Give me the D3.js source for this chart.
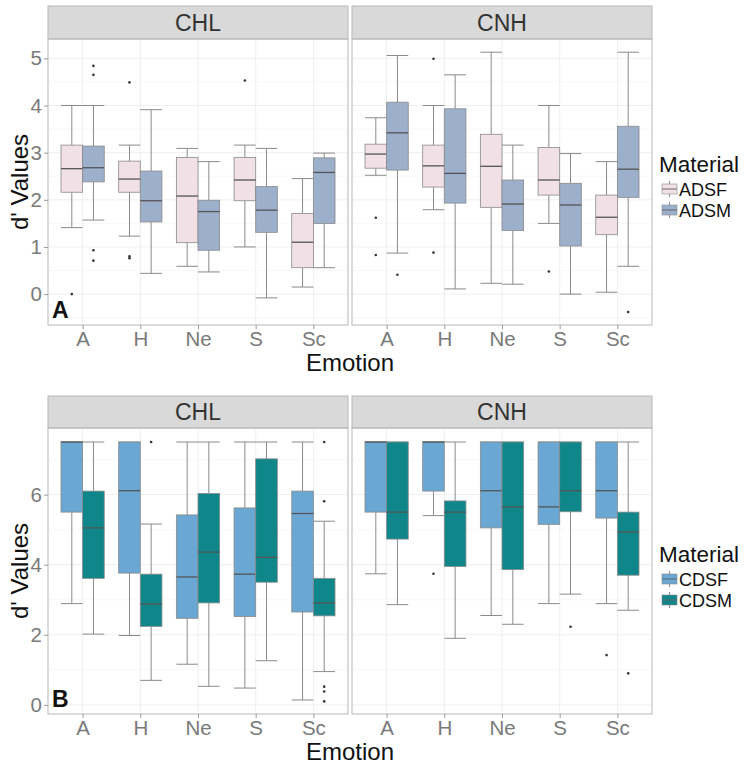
<!DOCTYPE html>
<html><head><meta charset="utf-8">
<script src="https://cdn.jsdelivr.net/npm/d3@7"></script>
<style>body{margin:0;background:#fff}svg{display:block;font-family:"Liberation Sans",Arial,sans-serif}</style>
</head><body><svg id="c" width="748" height="767"></svg>
<script>
// ---- data ----
const emotions = ["A","H","Ne","S","Sc"];
const groups = ["CHL","CNH"];
const materialsA = ["ADSF","ADSM"];
const materialsB = ["CDSF","CDSM"];
const colorsA = ["#f1e0e6","#9cafcb"];
const colorsB = ["#6ba7d3","#0f878a"];
const yTicksA = [0,1,2,3,4,5];
const yTicksB = [0,2,4,6];
// each entry: [lowerWhisker, q1, median, q3, upperWhisker]
const A_CHL_ADSF = [[1.41,2.16,2.66,3.16,4.00],[1.23,2.16,2.44,2.82,3.16],[0.59,1.09,2.08,2.90,3.09],[1.00,1.98,2.42,2.90,3.16],[0.15,0.56,1.10,1.71,2.45]];
const A_CHL_ADSF_out = [[0.0],[0.80,0.76,4.49],[],[4.53],[]];
const A_CHL_ADSM = [[1.57,2.38,2.68,3.14,4.00],[0.44,1.53,1.98,2.61,3.91],[0.47,0.93,1.75,1.99,2.81],[-0.08,1.31,1.78,2.28,3.09],[0.56,1.50,2.58,2.89,2.99]];
const A_CHL_ADSM_out = [[4.84,4.65,0.93,0.71],[],[],[],[]];
const A_CNH_ADSF = [[2.52,2.67,2.97,3.18,3.74],[1.79,2.27,2.72,3.16,4.00],[0.23,1.84,2.71,3.39,5.13],[1.50,2.10,2.42,3.11,4.00],[0.04,1.26,1.63,2.10,2.81]];
const A_CNH_ADSF_out = [[1.62,0.83],[4.99,0.88],[],[0.48],[]];
const A_CNH_ADSM = [[0.87,2.63,3.42,4.07,5.06],[0.11,1.93,2.56,3.93,4.65],[0.21,1.35,1.91,2.42,3.16],[0.0,1.02,1.89,2.35,2.98],[0.59,2.05,2.65,3.56,5.13]];
const A_CNH_ADSM_out = [[0.41],[],[],[],[-0.38]];
const B_CHL_CDSF = [[2.89,5.50,7.5,7.5,7.5],[1.98,3.76,6.11,7.5,7.5],[1.16,2.47,3.65,5.42,7.5],[0.48,2.52,3.73,5.62,7.5],[0.14,2.65,5.46,6.10,7.5]];
const B_CHL_CDSF_out = [[],[],[],[],[]];
const B_CHL_CDSM = [[2.02,3.61,5.05,6.10,7.5],[0.70,2.24,2.88,3.73,5.16],[0.53,2.91,4.36,6.03,7.5],[1.26,3.50,4.21,7.02,7.5],[0.95,2.54,2.91,3.61,5.24]];
const B_CHL_CDSM_out = [[],[7.5],[],[],[7.5,5.81,0.52,0.38,0.10]];
const B_CNH_CDSF = [[3.74,5.50,7.5,7.5,7.5],[5.40,6.10,7.5,7.5,7.5],[2.55,5.05,6.11,7.5,7.5],[2.89,5.15,5.65,7.5,7.5],[2.89,5.33,6.11,7.5,7.5]];
const B_CNH_CDSF_out = [[],[3.74],[],[],[1.42]];
const B_CNH_CDSM = [[2.86,4.73,5.50,7.5,7.5],[1.90,3.95,5.50,5.82,7.5],[2.30,3.86,5.65,7.5,7.5],[3.16,5.51,6.11,7.5,7.5],[2.70,3.70,4.93,5.50,7.5]];
const B_CNH_CDSM_out = [[],[],[],[2.23],[0.90]];

// ---- drawing ----
const svg = d3.select("#c");
const panelX = [[48,348],[352,652]];

function drawRow(cfg){
  const {top, stripH, bottom, yDomain, yTicks, mats, cols, data, outs, tag} = cfg;
  const pTop = top + stripH;
  const y = d3.scaleLinear().domain(yDomain).range([bottom, pTop]);
  groups.forEach((g, gi) => {
    const [x0, x1] = panelX[gi];
    const x = d3.scaleBand().domain(emotions).range([x0, x1]).paddingInner(0).paddingOuter(0.1);
    const bw = x.bandwidth();
    const xc = e => x(e) + bw/2;
    const sub = d3.scaleBand().domain(mats).range([-0.375*bw, 0.375*bw]);
    const gP = svg.append("g");
    // strip
    gP.append("rect").attr("x", x0).attr("y", top).attr("width", x1-x0).attr("height", stripH)
      .attr("fill", "#d9d9d9").attr("stroke", "#b8b8b8").attr("stroke-width", 1);
    gP.append("text").attr("x", (x0+x1)/2).attr("y", top + stripH/2 + 8).attr("text-anchor","middle")
      .attr("font-size", 23).attr("fill", "#333").text(g);
    // grid
    const minor = [];
    for (let i = 0; i < yTicks.length; i++) {
      const step = yTicks[1]-yTicks[0];
      minor.push(yTicks[i] - step/2);
      if (i === yTicks.length-1) minor.push(yTicks[i] + step/2);
    }
    gP.selectAll(".mn").data(minor.filter(v => v > yDomain[0] && v < yDomain[1])).join("line")
      .attr("x1", x0).attr("x2", x1).attr("y1", d => y(d)).attr("y2", d => y(d))
      .attr("stroke", "#f4f4f4").attr("stroke-width", 0.6);
    gP.selectAll(".mj").data(yTicks).join("line")
      .attr("x1", x0).attr("x2", x1).attr("y1", d => y(d)).attr("y2", d => y(d))
      .attr("stroke", "#ebebeb").attr("stroke-width", 0.8);
    gP.selectAll(".vx").data(emotions).join("line")
      .attr("x1", d => xc(d)).attr("x2", d => xc(d)).attr("y1", pTop).attr("y2", bottom)
      .attr("stroke", "#ebebeb").attr("stroke-width", 0.8);
    // boxes
    mats.forEach((m, mi) => {
      const st = data[gi][mi], ot = outs[gi][mi];
      emotions.forEach((e, ei) => {
        const [lw, q1, md, q3, uw] = st[ei];
        const bx = xc(e) + sub(m);
        const cx = bx + sub.bandwidth()/2;
        const w = sub.bandwidth();
        const b = gP.append("g");
        const wc = "#8a8a8a";
        b.append("line").attr("x1", cx).attr("x2", cx).attr("y1", y(uw)).attr("y2", y(q3)).attr("stroke", wc);
        b.append("line").attr("x1", cx).attr("x2", cx).attr("y1", y(q1)).attr("y2", y(lw)).attr("stroke", wc);
        b.append("line").attr("x1", bx).attr("x2", bx+w).attr("y1", y(uw)).attr("y2", y(uw)).attr("stroke", wc);
        b.append("line").attr("x1", bx).attr("x2", bx+w).attr("y1", y(lw)).attr("y2", y(lw)).attr("stroke", wc);
        b.append("rect").attr("x", bx).attr("y", y(q3)).attr("width", w).attr("height", Math.max(0.01, y(q1)-y(q3)))
          .attr("fill", cols[mi]).attr("stroke", "#8a8a8a").attr("stroke-width", 0.8);
        b.append("line").attr("x1", bx).attr("x2", bx+w).attr("y1", y(md)).attr("y2", y(md))
          .attr("stroke", "#555").attr("stroke-width", 1.3);
        b.selectAll("circle").data(ot[ei]).join("circle").attr("cx", cx).attr("cy", d => y(d)).attr("r", 1.3).attr("fill", "#333");
      });
    });
    // border
    gP.append("rect").attr("x", x0).attr("y", pTop).attr("width", x1-x0).attr("height", bottom-pTop)
      .attr("fill", "none").attr("stroke", "#b8b8b8").attr("stroke-width", 1);
    // x axis
    const xa = gP.append("g").attr("transform", `translate(0,${bottom})`)
      .call(d3.axisBottom(d3.scalePoint().domain(emotions).range([xc(emotions[0]), xc(emotions[4])])).tickSize(4).tickPadding(2));
    xa.select(".domain").remove();
    xa.selectAll("line").attr("stroke", "#999");
    xa.selectAll("text").attr("font-size", 20.5).attr("fill", "#7a7a7a").attr("font-family", "Liberation Sans, Arial, sans-serif");
    if (gi === 0) {
      const ya = gP.append("g").attr("transform", `translate(${x0},0)`)
        .call(d3.axisLeft(y).tickValues(yTicks).tickFormat(d3.format("d")).tickSize(4).tickPadding(2));
      ya.select(".domain").remove();
      ya.selectAll("line").attr("stroke", "#999");
      ya.selectAll("text").attr("font-size", 20.5).attr("fill", "#7a7a7a").attr("font-family", "Liberation Sans, Arial, sans-serif");
      gP.append("text").attr("x", 52).attr("y", bottom - 7).attr("font-size", 23).attr("font-weight", "bold").attr("fill", "#111").text(tag);
    }
  });
  // axis titles
  svg.append("text").attr("transform", `translate(28,${(pTop+bottom)/2}) rotate(-90)`).attr("text-anchor","middle")
    .attr("font-size", 24).attr("fill", "#111").text("d' Values");
  svg.append("text").attr("x", 350).attr("y", bottom + 46).attr("text-anchor","middle")
    .attr("font-size", 24).attr("fill", "#111").text("Emotion");
  // legend
  const ly = cfg.legendY;
  const lg = svg.append("g");
  lg.append("text").attr("x", 659).attr("y", ly).attr("font-size", 22.5).attr("fill", "#111").text("Material");
  mats.forEach((m, i) => {
    const yy = ly + 17 + i*21;
    lg.append("line").attr("x1", 669.5).attr("x2", 669.5).attr("y1", yy-8).attr("y2", yy+8).attr("stroke", "#8a8a8a");
    lg.append("rect").attr("x", 662).attr("y", yy-5).attr("width", 15).attr("height", 10).attr("fill", cols[i]).attr("stroke", "#8a8a8a").attr("stroke-width", 0.6);
    lg.append("line").attr("x1", 662).attr("x2", 677).attr("y1", yy).attr("y2", yy).attr("stroke", "#666");
    lg.append("text").attr("x", 679).attr("y", yy + 6.5).attr("font-size", 18).attr("fill", "#111").text(m);
  });
}

drawRow({top: 6, stripH: 33, bottom: 325, yDomain: [-0.655, 5.41], yTicks: yTicksA, mats: materialsA, cols: colorsA,
  data: [[A_CHL_ADSF, A_CHL_ADSM],[A_CNH_ADSF, A_CNH_ADSM]],
  outs: [[A_CHL_ADSF_out, A_CHL_ADSM_out],[A_CNH_ADSF_out, A_CNH_ADSM_out]], tag: "A", legendY: 172});
drawRow({top: 396, stripH: 32, bottom: 714, yDomain: [-0.26, 7.9], yTicks: yTicksB, mats: materialsB, cols: colorsB,
  data: [[B_CHL_CDSF, B_CHL_CDSM],[B_CNH_CDSF, B_CNH_CDSM]],
  outs: [[B_CHL_CDSF_out, B_CHL_CDSM_out],[B_CNH_CDSF_out, B_CNH_CDSM_out]], tag: "B", legendY: 562});
</script></body></html>
